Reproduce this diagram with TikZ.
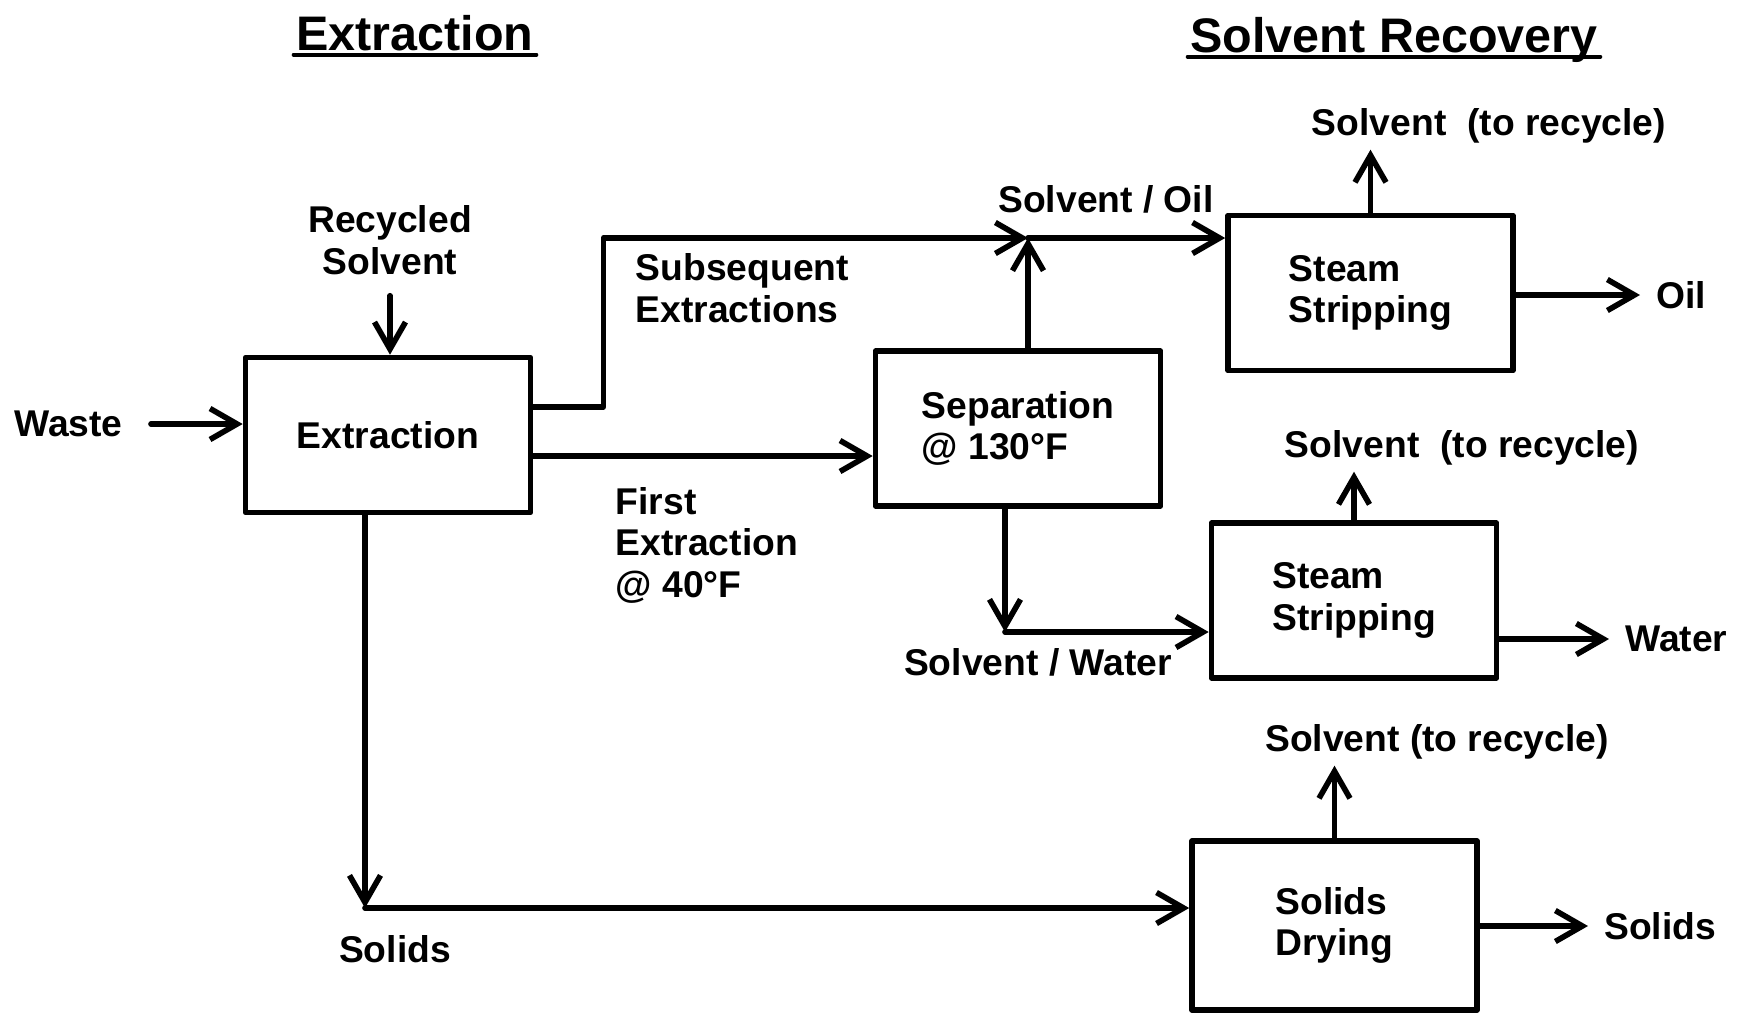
\documentclass[tikz,border=0pt]{standalone}
\usepackage{fontspec}
\setmainfont{Liberation Sans}
\usetikzlibrary{arrows.meta,calc}

\tikzset{
	unit/.style={draw, line width=1.6pt, minimum width=2.85cm, minimum height=1.55cm, align=left, inner sep=0pt},
	lbl/.style={inner sep=1pt, align=left},
	flow/.style={-{Straight Barb[length=2.7mm,width=3.1mm]}},
	heading/.style={font=\bfseries\fontsize{13.8}{16}\selectfont, inner sep=0pt}
}

\begin{document}
\begin{tikzpicture}[
		line width=1.6pt,
		line cap=round,
		line join=round,
		font=\bfseries\fontsize{10.6}{11.8}\selectfont
		]
		\useasboundingbox (0,0) rectangle (17.37,-10.21);
		
		% Headings
		\node[heading, anchor=base] (hext) at (4.15,-0.505) {Extraction};
		\node[heading, anchor=base] (hrec) at (13.94,-0.525) {Solvent Recovery};
		\draw[line width=1.1pt] ([yshift=-1.2pt]hext.base west) -- ([yshift=-1.2pt]hext.base east);
		\draw[line width=1.1pt] ([yshift=-1.2pt]hrec.base west) -- ([yshift=-1.2pt]hrec.base east);
		
		% Process units
		\node[unit] (ext) at (3.88,-4.35) {Extraction};
		\node[unit] (sep) at (10.18,-4.285) {Separation\\@ 130°F};
		\node[unit] (ss1) at (13.705,-2.93) {Steam\\Stripping};
		\node[unit] (ss2) at (13.54,-6.005) {Steam\\Stripping};
		\node[unit, minimum height=1.69cm] (dry) at (13.345,-9.255) {Solids\\Drying};
		
		% Stream labels
		\node[lbl, anchor=west] (waste) at (0.08,-4.24) {Waste};
		\node[lbl, align=center] (recyc) at (3.90,-2.40) {Recycled\\Solvent};
		\node[lbl, anchor=west, inner sep=0pt] (subs) at (6.33,-2.88) {Subsequent\\Extractions};
		\node[lbl, anchor=west, inner sep=0pt] (first) at (6.13,-5.45) {First\\Extraction\\@ 40°F};
		\node[lbl] (oilmix) at (11.06,-1.99) {Solvent / Oil};
		\node[lbl] (watmix) at (10.38,-6.62) {Solvent / Water};
		\node[lbl] (solids) at (3.95,-9.49) {Solids};
		\node[lbl] (rec1) at (14.89,-1.26) {Solvent\ \ (to recycle)};
		\node[lbl] (rec2) at (14.62,-4.48) {Solvent\ \ (to recycle)};
		\node[lbl] (rec3) at (14.37,-7.42) {Solvent (to recycle)};
		\node[lbl, anchor=west] (oil) at (16.50,-2.95) {Oil};
		\node[lbl, anchor=west] (water) at (16.19,-6.39) {Water};
		\node[lbl, anchor=west] (dryout) at (15.98,-9.26) {Solids};
		
		% Junctions
		\coordinate (jo) at (10.28,-2.38);
		\coordinate (jw) at (10.05,-6.32);
		\coordinate (js) at (3.65,-9.08);
		
		% Extraction feeds
		\draw[flow, shorten <=2.2mm] (waste.east) -- (waste.east -| ext.west);
		\draw[flow, shorten <=1.5mm] (recyc.south) -- (recyc.south |- ext.north);
		
		% Extraction outlets
		\draw[flow] ([yshift=2.8mm]ext.east) -- ++(0.7,0) |- (jo);
		\draw[flow] ([yshift=-2.1mm]ext.east) -- ([yshift=-2.1mm]ext.east -| sep.west);
		\draw[flow] (ext.south -| js) -- (js);
		\draw[flow] (js) -- (js -| dry.west);
		
		% Separation outlets
		\draw[flow] (sep.north -| jo) -- (jo);
		\draw[flow] (jo) -- (jo -| ss1.west);
		\draw[flow] (sep.south -| jw) -- (jw);
		\draw[flow] (jw) -- (jw -| ss2.west);
		
		% Solvent recovery outlets
		\foreach \u/\r in {ss1/rec1, ss2/rec2, dry/rec3} {
			\draw[flow] (\u.north) -- (\u.north |- \r.south);
		}
		\foreach \u/\o in {ss1/oil, ss2/water, dry/dryout} {
			\draw[flow, shorten >=1mm] (\u.east |- \o) -- (\o.west);
		}
		
	\end{tikzpicture}
\end{document}
